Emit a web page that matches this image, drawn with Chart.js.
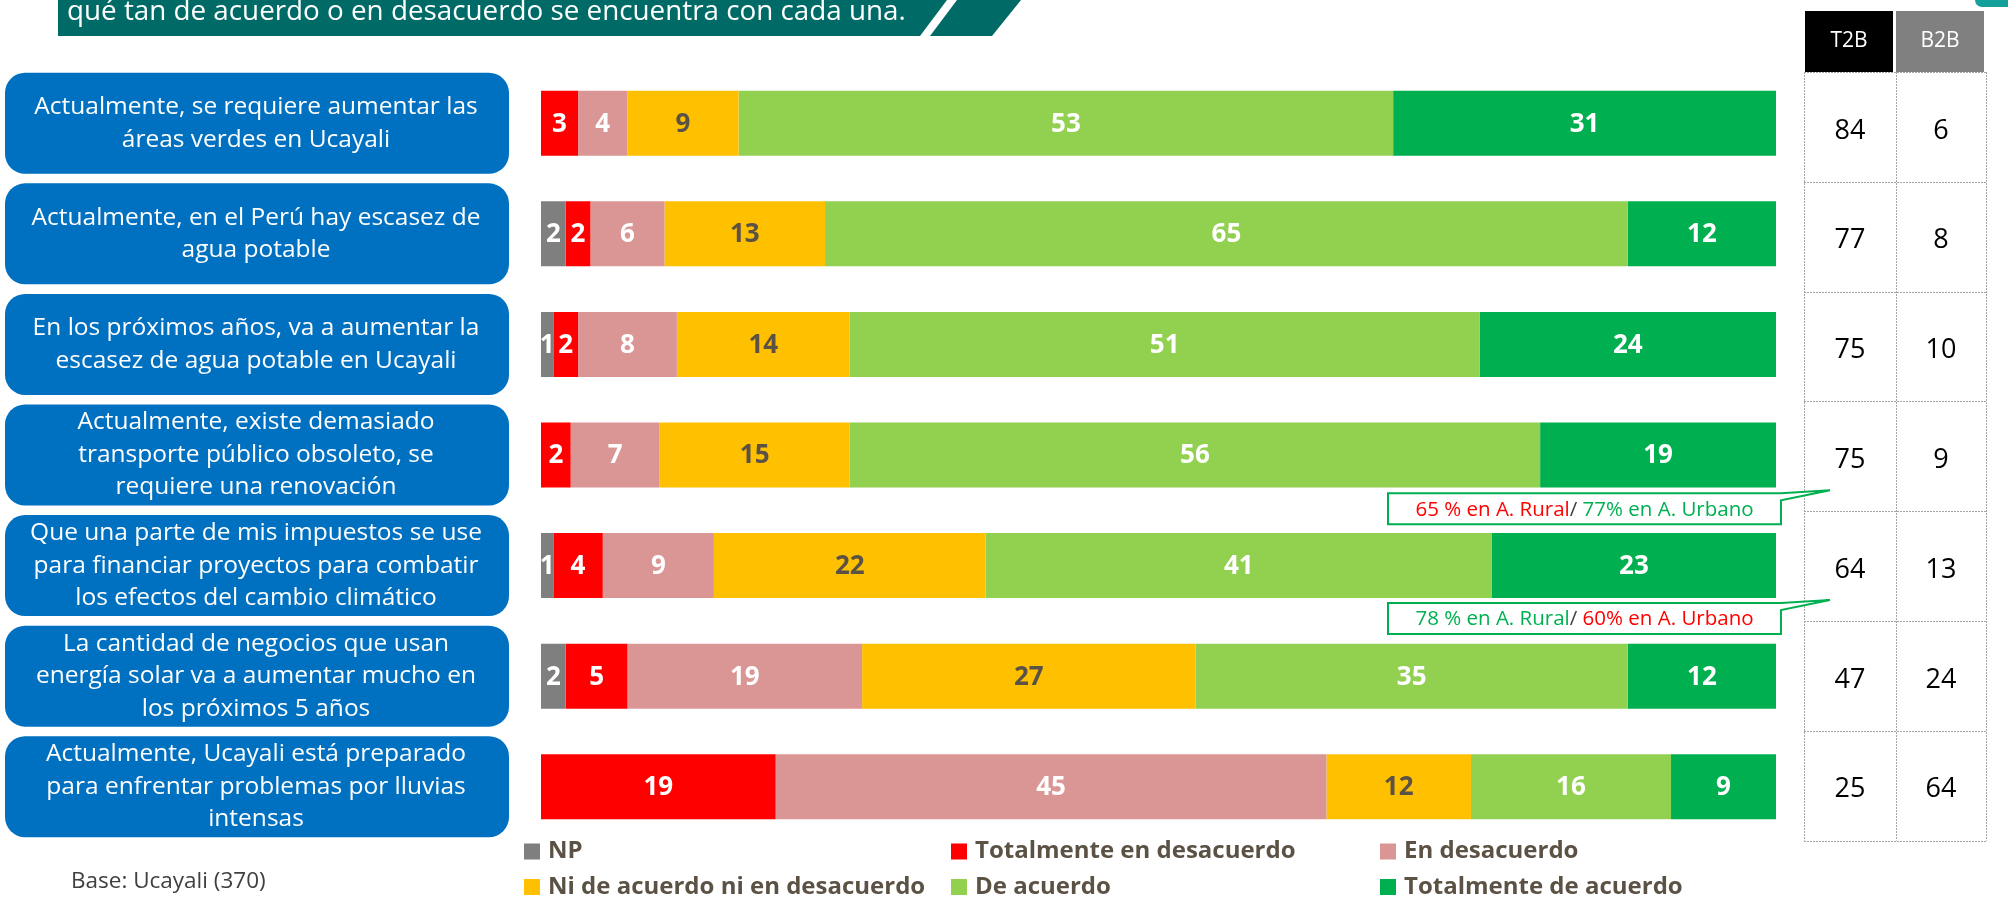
<!DOCTYPE html>
<html>
<head>
<meta charset="utf-8">
<script src="https://cdn.jsdelivr.net/npm/chart.js"></script>
<style>
    html, body { margin: 0; padding: 0; background: #fff; }
    body { width: 2008px; height: 901px; overflow: hidden; }
</style>
</head>
<body>
<canvas id="chart" width="2008" height="901"></canvas>
<script>
// categorias (una linea por elemento)
const categories = [
    ['Actualmente, se requiere aumentar las', 'áreas verdes en Ucayali'],
    ['Actualmente, en el Perú hay escasez de', 'agua potable'],
    ['En los próximos años, va a aumentar la', 'escasez de agua potable en Ucayali'],
    ['Actualmente, existe demasiado', 'transporte público obsoleto, se', 'requiere una renovación'],
    ['Que una parte de mis impuestos se use', 'para financiar proyectos para combatir', 'los efectos del cambio climático'],
    ['La cantidad de negocios que usan', 'energía solar va a aumentar mucho en', 'los próximos 5 años'],
    ['Actualmente, Ucayali está preparado', 'para enfrentar problemas por lluvias', 'intensas']
];
const seriesNames = ['NP', 'Totalmente en desacuerdo', 'En desacuerdo', 'Ni de acuerdo ni en desacuerdo', 'De acuerdo', 'Totalmente de acuerdo'];
const npValues      = [0, 2, 1, 0, 1, 2, 0];
const totDesacuerdo = [3, 2, 2, 2.4, 4, 5, 19.0];
const desacuerdo    = [4, 6, 8, 7.2, 9, 19, 44.6];
const ninguno       = [9, 13, 14, 15.4, 22, 27, 11.7];
const deAcuerdo     = [53, 65, 51, 55.9, 41, 35, 16.2];
const totAcuerdo    = [31, 12, 24, 19.1, 23, 12, 8.5];
const t2b = [84, 77, 75, 75, 64, 47, 25];
const b2b = [6, 8, 10, 9, 13, 24, 64];
const tableHeaders = ['T2B', 'B2B'];
const titleText = 'qué tan de acuerdo o en desacuerdo se encuentra con cada una.';
const baseText = 'Base: Ucayali (370)';
// notas: [fila, texto rural, texto urbano, rural es rojo?]
const notes = [
    [3, '65 % en A. Rural', '77% en A. Urbano', true],
    [4, '78 % en A. Rural', '60% en A. Urbano', false]
];

const seriesData = [npValues, totDesacuerdo, desacuerdo, ninguno, deAcuerdo, totAcuerdo];
const colors = ['#7F7F7F', '#FF0000', '#DA9694', '#FFC000', '#92D050', '#00B050'];
const labelColors = ['#FFFFFF', '#FFFFFF', '#FFFFFF', '#5B5245', '#FFFFFF', '#FFFFFF'];
const FONT = '"Open Sans", sans-serif';

function roundRect(ctx, x, y, w, h, r) {
    ctx.beginPath();
    ctx.moveTo(x + r, y);
    ctx.arcTo(x + w, y, x + w, y + h, r);
    ctx.arcTo(x + w, y + h, x, y + h, r);
    ctx.arcTo(x, y + h, x, y, r);
    ctx.arcTo(x, y, x + w, y, r);
    ctx.closePath();
}

// numeros dentro de las barras
const barLabels = {
    id: 'barLabels',
    afterDatasetsDraw(chart) {
        const ctx = chart.ctx;
        ctx.save();
        ctx.font = `bold 26px ${FONT}`;
        ctx.textAlign = 'center';
        ctx.textBaseline = 'middle';
        chart.data.datasets.forEach((ds, di) => {
            chart.getDatasetMeta(di).data.forEach((bar, i) => {
                const v = ds.data[i];
                if (!v) return;
                ctx.fillStyle = labelColors[di];
                ctx.fillText(Math.round(v), (bar.x + bar.base) / 2, bar.y + 1);
            });
        });
        ctx.restore();
    }
};

// cajas azules, tabla, leyenda, titulo, notas
const decorations = {
    id: 'decorations',
    afterDraw(chart) {
        const ctx = chart.ctx;
        const yScale = chart.scales.y;
        ctx.save();

        // titulo
        ctx.fillStyle = '#006B66';
        ctx.beginPath();
        ctx.moveTo(58, 0); ctx.lineTo(947, 0); ctx.lineTo(920, 36); ctx.lineTo(58, 36);
        ctx.closePath(); ctx.fill();
        ctx.beginPath();
        ctx.moveTo(957, 0); ctx.lineTo(1021, 0); ctx.lineTo(992, 36); ctx.lineTo(930, 36);
        ctx.closePath(); ctx.fill();
        ctx.fillStyle = '#FFFFFF';
        ctx.font = `27.8px ${FONT}`;
        ctx.textAlign = 'left';
        ctx.textBaseline = 'alphabetic';
        ctx.fillText(titleText, 67, 20);

        // esquina
        ctx.fillStyle = '#13A09A';
        roundRect(ctx, 1975, -10, 50, 17, 7);
        ctx.fill();

        // cajas de categorias
        categories.forEach((lines, i) => {
            const cy = yScale.getPixelForValue(i);
            ctx.fillStyle = '#0070C0';
            roundRect(ctx, 5, cy - 50.5, 504, 101, 20);
            ctx.fill();
            ctx.fillStyle = '#FFFFFF';
            ctx.font = `24.5px ${FONT}`;
            ctx.textAlign = 'center';
            ctx.textBaseline = 'middle';
            const lh = 32.5;
            const y0 = cy - (lines.length - 1) * lh / 2;
            lines.forEach((t, k) => ctx.fillText(t, 256, y0 + k * lh));
        });

        // base
        ctx.fillStyle = '#404040';
        ctx.font = `22.5px ${FONT}`;
        ctx.textAlign = 'left';
        ctx.fillText(baseText, 71, 882);

        // leyenda
        const legX = [524, 951, 1380];
        const legY = [851.5, 887];
        ctx.font = `bold 24px ${FONT}`;
        seriesNames.forEach((name, k) => {
            const x = legX[k % 3], y = legY[Math.floor(k / 3)];
            ctx.fillStyle = colors[k];
            ctx.fillRect(x, y - 8, 16, 16);
            ctx.fillStyle = '#5B5245';
            ctx.textAlign = 'left';
            ctx.fillText(name, x + 24, y);
        });

        // tabla T2B / B2B
        const colX = [1804, 1896, 1986];
        const top = 72, rowH = 109.8;
        ctx.fillStyle = '#000000';
        ctx.fillRect(1805, 11, 88, 61);
        ctx.fillStyle = '#808080';
        ctx.fillRect(1896, 11, 88, 61);
        ctx.fillStyle = '#FFFFFF';
        ctx.font = `21px ${FONT}`;
        ctx.textAlign = 'center';
        ctx.fillText(tableHeaders[0], 1849, 41);
        ctx.fillText(tableHeaders[1], 1940, 41);
        ctx.strokeStyle = '#A6A6A6';
        ctx.lineWidth = 1;
        ctx.setLineDash([2, 1]);
        const bottom = top + rowH * t2b.length;
        colX.forEach(x => {
            ctx.beginPath(); ctx.moveTo(x + 0.5, top); ctx.lineTo(x + 0.5, bottom); ctx.stroke();
        });
        for (let r = 0; r <= t2b.length; r++) {
            const y = Math.round(top + r * rowH) + 0.5;
            ctx.beginPath(); ctx.moveTo(colX[0], y); ctx.lineTo(colX[2], y); ctx.stroke();
        }
        ctx.setLineDash([]);
        ctx.fillStyle = '#000000';
        ctx.font = `27px ${FONT}`;
        t2b.forEach((v, r) => {
            const cy = top + (r + 0.5) * rowH + 4;
            ctx.fillText(v, 1850, cy);
            ctx.fillText(b2b[r], 1941, cy);
        });

        // notas con flecha
        notes.forEach(([row, rural, urbano, ruralRed]) => {
            const y0 = top + (row + 1) * rowH - 18, h = 31;
            const x0 = 1388, x1 = 1781;
            ctx.fillStyle = '#FFFFFF';
            ctx.strokeStyle = '#00B050';
            ctx.lineWidth = 2;
            ctx.beginPath();
            ctx.moveTo(x0, y0); ctx.lineTo(x1, y0);
            ctx.lineTo(1830, y0 - 3); ctx.lineTo(x1, y0 + 7);
            ctx.lineTo(x1, y0 + h); ctx.lineTo(x0, y0 + h);
            ctx.closePath();
            ctx.fill(); ctx.stroke();
            ctx.font = `20.5px ${FONT}`;
            ctx.textAlign = 'left';
            const parts = [[rural, ruralRed ? '#FF0000' : '#00B050'], ['/ ', '#404040'], [urbano, ruralRed ? '#00B050' : '#FF0000']];
            const total = parts.reduce((s, p) => s + ctx.measureText(p[0]).width, 0);
            let x = (x0 + x1) / 2 - total / 2;
            parts.forEach(([t, c]) => {
                ctx.fillStyle = c;
                ctx.fillText(t, x, y0 + h / 2 + 1);
                x += ctx.measureText(t).width;
            });
        });

        ctx.restore();
    }
};

const ctx = document.getElementById('chart').getContext('2d');
const myChart = new Chart(ctx, {
    type: 'bar',
    data: {
        labels: categories,
        datasets: seriesNames.map((name, k) => ({
            label: name,
            data: seriesData[k],
            backgroundColor: colors[k],
            borderWidth: 0,
            barPercentage: 0.588,
            categoryPercentage: 1
        }))
    },
    options: {
        indexAxis: 'y',
        responsive: false,
        animation: false,
        devicePixelRatio: 1,
        layout: { padding: { left: 541, right: 232, top: 68, bottom: 59 } },
        plugins: {
            legend: { display: false },
            tooltip: { enabled: false }
        },
        scales: {
            x: { stacked: true, min: 0, max: 100, display: false },
            y: { stacked: true, display: false }
        }
    },
    plugins: [barLabels, decorations]
});
</script>
</body>
</html>
